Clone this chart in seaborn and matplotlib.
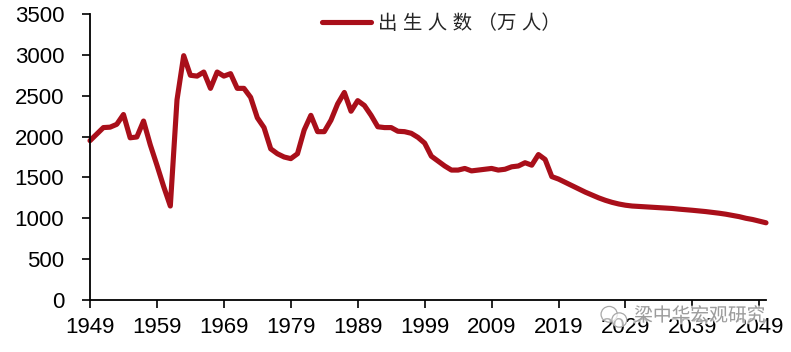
import pandas as pd
import seaborn as sns
import matplotlib.pyplot as plt
import matplotlib.patheffects as pe
from matplotlib.patches import Ellipse

years = list(range(1949, 2051))
births = [1950, 2030, 2110, 2115, 2150, 2270, 1985, 1995, 2190, 1900,
          1650, 1390, 1150, 2450, 2990, 2750, 2740, 2790, 2590, 2790,
          2740, 2770, 2590, 2590, 2480, 2230, 2110, 1850, 1790, 1750,
          1730, 1790, 2080, 2260, 2060, 2060, 2200, 2400, 2540, 2310,
          2440, 2380, 2260, 2120, 2110, 2110, 2065, 2060, 2040, 1990,
          1920, 1760, 1700, 1640, 1590, 1590, 1610, 1580, 1590, 1600,
          1610, 1590, 1600, 1630, 1640, 1680, 1650, 1780, 1720, 1510,
          1480, 1440, 1400, 1360, 1320, 1285, 1250, 1220, 1195, 1175,
          1160, 1150, 1145, 1140, 1135, 1130, 1125, 1120, 1112, 1105,
          1098, 1090, 1082, 1072, 1062, 1050, 1035, 1020, 1000, 985,
          965, 945]
x_ticks = [1949, 1959, 1969, 1979, 1989, 1999, 2009, 2019, 2029, 2039, 2049]
y_ticks = [0, 500, 1000, 1500, 2000, 2500, 3000, 3500]
series_name = '出 生 人 数 （万 人）'
watermark = '梁中华宏观研究'

df = pd.DataFrame({'year': years, 'births': births})

sns.set_theme(style='ticks')
plt.rcParams['font.family'] = ['Liberation Sans', 'Noto Sans CJK SC', 'DejaVu Sans']

fig = plt.figure(figsize=(7.91, 3.52), dpi=100)
ax = fig.add_axes([90 / 791, 1 - 300 / 352, 676 / 791, 286 / 352])

sns.lineplot(data=df, x='year', y='births', ax=ax, color='#A90F1A', linewidth=3.7,
             label=series_name, solid_joinstyle='round', solid_capstyle='round',
             clip_on=False)

ax.set_xlim(1949, 2050)
ax.set_ylim(0, 3500)
ax.set_xticks(x_ticks)
ax.set_yticks(y_ticks)
ax.set_xlabel('')
ax.set_ylabel('')
ax.tick_params(axis='both', labelsize=16, length=5.5, width=1.2, color='black', labelcolor='black')
ax.tick_params(axis='x', pad=7)
ax.tick_params(axis='y', pad=13)
for side in ['top', 'right']:
    ax.spines[side].set_visible(False)
for side in ['left', 'bottom']:
    ax.spines[side].set_linewidth(1.3)
    ax.spines[side].set_color('black')

leg = ax.legend(loc='upper center', bbox_to_anchor=(0.52, 1.06), frameon=False,
                fontsize=14, handlelength=2.5, handletextpad=0.35)

# watermark sits on top of the tick labels
halo = [pe.withStroke(linewidth=2.5, foreground='white', alpha=0.7)]
ax.text(0.902, -0.057, watermark, transform=ax.transAxes, fontsize=13.5, color='#8f8f8f',
        alpha=0.85, ha='center', va='center', clip_on=False, path_effects=halo, zorder=10)

# wechat bubbles of the watermark
for cx, cy, w, h in [(0.768, -0.05, 0.024, 0.055), (0.783, -0.07, 0.022, 0.05)]:
    ax.add_patch(Ellipse((cx, cy), w, h, transform=ax.transAxes, clip_on=False, zorder=10,
                         facecolor=(1, 1, 1, 0.7), edgecolor='#a8a8a8', linewidth=0.9))

fig.savefig('out.png', dpi=100)
